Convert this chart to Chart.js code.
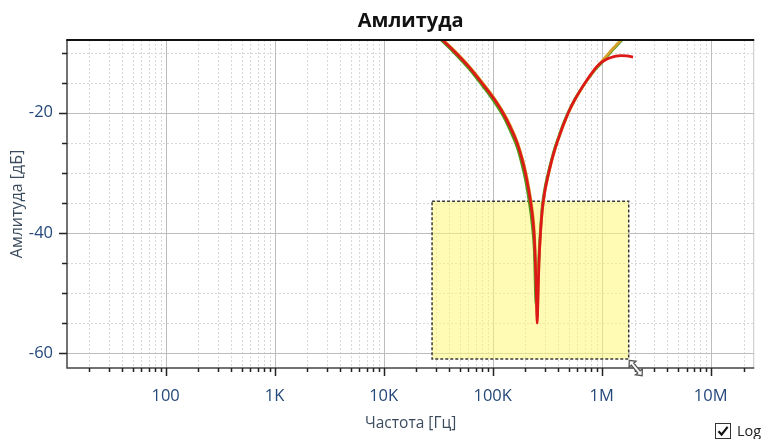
<!DOCTYPE html>
<html>
<head>
<meta charset="utf-8">
<script src="https://cdn.jsdelivr.net/npm/chart.js@4.4.0/dist/chart.umd.min.js"></script>
<style>
  body { margin: 0; background: #fff; }
  #wrap { position: relative; width: 762px; height: 439px; }
  #logBox { position: absolute; left: 715px; top: 421px; display: flex; align-items: center;
            font: 14.5px "Open Sans", sans-serif; color: #222; white-space: nowrap; }
  #logBox .box { width: 14px; height: 14px; border: 1px solid #333; background: #fff;
                 display: flex; align-items: center; justify-content: center; margin-right: 6px; }
</style>
</head>
<body>
<div id="wrap">
  <canvas id="ampChart" width="762" height="439"></canvas>
  <div id="logBox">
    <span class="box"><svg width="12" height="12" viewBox="0 0 12 12"><path d="M1.5 6.2 L4.6 9.6 L10.6 1.8" fill="none" stroke="#111" stroke-width="2.2"/></svg></span>Log
  </div>
</div>
<script>
// frequency points [Hz]
const freqs = [30e3, 35e3, 45e3, 60e3, 80e3, 100e3, 124e3, 145e3, 168e3, 185e3, 200e3, 215e3, 230e3,
  241e3, 250e3, 256e3, 262e3, 266e3, 273e3, 285e3, 300e3, 320e3, 345e3, 375e3, 410e3, 450e3,
  500e3, 560e3, 640e3, 730e3, 820e3, 907e3, 1.0e6, 1.1e6, 1.2e6, 1.35e6, 1.5e6, 1.7e6, 1.94e6];

// amplitude [dB] per series
const ampRed = [-6.9, -8.0, -9.9, -12.3, -15.1, -17.4, -20, -22.4, -25.1, -27.6, -30.1, -33.1, -36.7,
  -40.8, -48.3, -55, -49, -45, -40.8, -36.2, -33.2, -30.7, -28.2, -25.9, -23.8, -21.8,
  -19.8, -18.0, -16.2, -14.6, -13.3, -12.3, -11.6, -11.15, -10.85, -10.6, -10.5, -10.55, -10.75];
const ampOrange = [-6.75, -7.85, -9.75, -12.15, -14.9, -17.2, -19.8, -22.1, -24.8, -27.2, -29.6, -32.5, -35.9,
  -39.6, -47, -54, -49, -45, -41, -36.5, -33.4, -30.9, -28.35, -26.0, -23.9, -21.9,
  -19.9, -18.1, -16.3, -14.7, -13.4, -12.35, -11.5, -10.6, -9.8, -8.8, -7.9, -6.8, -5.6];
const ampGreen = [-7.1, -8.2, -10.15, -12.6, -15.45, -17.8, -20.45, -23.0, -25.8, -28.5, -31.2, -34.5, -38.5,
  -43, -52, -50, -46.5, -43.5, -40.0, -35.5, -32.7, -30.3, -27.9, -25.6, -23.6, -21.6,
  -19.7, -17.9, -16.2, -14.65, -13.45, -12.5, -11.7, -10.8, -10.0, -9.0, -8.1, -7.0, -5.8];

const xMajorTicks = [100, 1e3, 1e4, 1e5, 1e6, 1e7];
const xTickLabels = ['100', '1K', '10K', '100K', '1M', '10M'];
const yMajorTicks = [-20, -40, -60];
const yMinorTicks = [-10, -15, -25, -30, -35, -45, -50, -55];

// selected zoom region (in data units)
const selFreq = [27.8e3, 1.77e6];
const selDb = [-34.7, -60.95];

const xMin = 12.46, xMax = 25.07e6;
const yMin = -62.44, yMax = -7.91;

const xMinorTicks = [];
[10, 100, 1e3, 1e4, 1e5, 1e6, 1e7].forEach(d => {
  for (let m = 2; m <= 9; m++) {
    if (m * d > xMin && m * d < xMax) xMinorTicks.push(m * d);
  }
});
const xAllTicks = xMajorTicks.concat(xMinorTicks).sort((a, b) => a - b);
const yAllTicks = yMajorTicks.concat(yMinorTicks).sort((a, b) => a - b);

const labelColor = '#24497a';
const titleColor = '#3b4b5e';
const fontFamily = '"Open Sans", "Noto Sans", sans-serif';

function line(ctx, x1, y1, x2, y2) {
  ctx.moveTo(x1, y1);
  ctx.lineTo(x2, y2);
}

const plotDecor = {
  id: 'plotDecor',
  beforeDatasetsDraw(chart) {
    const { ctx, chartArea: a, scales: { x, y } } = chart;
    ctx.save();
    // minor grid, dotted
    ctx.lineWidth = 1;
    ctx.strokeStyle = '#d8d8d8';
    ctx.setLineDash([2, 2]);
    ctx.beginPath();
    xMinorTicks.forEach(v => {
      const px = Math.round(x.getPixelForValue(v)) + 0.5;
      line(ctx, px, a.top, px, a.bottom);
    });
    yMinorTicks.forEach(v => {
      const py = Math.round(y.getPixelForValue(v)) + 0.5;
      line(ctx, a.left, py, a.right, py);
    });
    ctx.stroke();
    // major grid
    ctx.setLineDash([]);
    ctx.strokeStyle = '#bdbdbd';
    ctx.beginPath();
    xMajorTicks.forEach(v => {
      const px = Math.round(x.getPixelForValue(v)) + 0.5;
      line(ctx, px, a.top, px, a.bottom);
    });
    yMajorTicks.forEach(v => {
      const py = Math.round(y.getPixelForValue(v)) + 0.5;
      line(ctx, a.left, py, a.right, py);
    });
    ctx.stroke();

    // selection rectangle
    const sx0 = x.getPixelForValue(selFreq[0]), sx1 = x.getPixelForValue(selFreq[1]);
    const sy0 = y.getPixelForValue(selDb[0]), sy1 = y.getPixelForValue(selDb[1]);
    ctx.fillStyle = 'rgba(255,247,120,0.55)';
    ctx.fillRect(sx0, sy0, sx1 - sx0, sy1 - sy0);
    ctx.setLineDash([3, 2]);
    ctx.strokeStyle = '#3a3a3a';
    ctx.lineWidth = 1.5;
    ctx.strokeRect(sx0, sy0, sx1 - sx0, sy1 - sy0);
    ctx.restore();
  },
  afterDraw(chart) {
    const { ctx, chartArea: a, scales: { x, y } } = chart;
    ctx.save();
    // frame
    ctx.strokeStyle = '#c8c8c8';
    ctx.lineWidth = 1;
    ctx.beginPath();
    line(ctx, a.right - 0.5, a.top, a.right - 0.5, a.bottom);
    ctx.stroke();
    ctx.strokeStyle = '#444';
    ctx.lineWidth = 1.5;
    ctx.beginPath();
    line(ctx, a.left, a.top, a.left, a.bottom + 0.75);
    line(ctx, a.left, a.bottom, a.right, a.bottom);
    ctx.stroke();
    ctx.strokeStyle = '#111';
    ctx.lineWidth = 2;
    ctx.beginPath();
    line(ctx, a.left - 0.75, a.top, a.right, a.top);
    ctx.stroke();

    // tick marks
    ctx.strokeStyle = '#222';
    ctx.lineWidth = 1.5;
    ctx.beginPath();
    xAllTicks.forEach(v => {
      const px = Math.round(x.getPixelForValue(v)) + 0.5;
      const len = xMajorTicks.includes(v) ? 8 : 4;
      line(ctx, px, a.bottom, px, a.bottom + len);
    });
    yAllTicks.forEach(v => {
      const py = Math.round(y.getPixelForValue(v)) + 0.5;
      const len = yMajorTicks.includes(v) ? 8 : 5;
      line(ctx, a.left, py, a.left - len, py);
    });
    ctx.stroke();

    // title
    ctx.fillStyle = '#111';
    ctx.font = 'bold 20px ' + fontFamily;
    ctx.textAlign = 'center';
    ctx.textBaseline = 'alphabetic';
    ctx.fillText('Амлитуда', (a.left + a.right) / 2, 27);

    // resize cursor at the corner of the selection
    const cx = x.getPixelForValue(selFreq[1]), cy = y.getPixelForValue(selDb[1]);
    ctx.translate(cx + 7, cy + 9);
    ctx.rotate(50 * Math.PI / 180);
    ctx.beginPath();
    ctx.moveTo(-10, 0);
    ctx.lineTo(-5, -4.5);
    ctx.lineTo(-5, -1.6);
    ctx.lineTo(5, -1.6);
    ctx.lineTo(5, -4.5);
    ctx.lineTo(10, 0);
    ctx.lineTo(5, 4.5);
    ctx.lineTo(5, 1.6);
    ctx.lineTo(-5, 1.6);
    ctx.lineTo(-5, 4.5);
    ctx.closePath();
    ctx.fillStyle = '#fff';
    ctx.fill();
    ctx.strokeStyle = '#555';
    ctx.lineWidth = 1.3;
    ctx.stroke();
    ctx.restore();
  }
};

const ctx = document.getElementById('ampChart');
new Chart(ctx, {
  type: 'line',
  data: {
    labels: freqs,
    datasets: [
      { label: 'red', data: freqs.map((f, i) => ({ x: f, y: ampRed[i] })), borderColor: '#dc1818', borderWidth: 2.7 },
      { label: 'orange', data: freqs.map((f, i) => ({ x: f, y: ampOrange[i] })), borderColor: '#d6a02a', borderWidth: 2.7 },
      { label: 'green', data: freqs.map((f, i) => ({ x: f, y: ampGreen[i] })), borderColor: '#4f9a1c', borderWidth: 2.7 },
    ],
  },
  options: {
    responsive: false,
    animation: false,
    layout: { padding: { top: 40, right: 5, left: 0, bottom: 0 } },
    elements: { point: { radius: 0 }, line: { cubicInterpolationMode: 'monotone' } },
    plugins: { legend: { display: false }, tooltip: { enabled: false }, title: { display: false } },
    scales: {
      x: {
        type: 'logarithmic',
        min: xMin,
        max: xMax,
        grid: { display: false, drawTicks: false },
        border: { display: false },
        afterBuildTicks: s => { s.ticks = xAllTicks.map(v => ({ value: v })); },
        afterFit: s => { s.height = 71; },
        ticks: {
          autoSkip: false,
          maxRotation: 0,
          padding: 18.4,
          color: labelColor,
          font: { family: fontFamily, size: 16.5 },
          callback: v => {
            const i = xMajorTicks.indexOf(v);
            return i >= 0 ? xTickLabels[i] : '';
          },
        },
        title: {
          display: true,
          text: 'Частота [Гц]',
          color: titleColor,
          font: { family: fontFamily, size: 15.5 },
          padding: { top: 0, bottom: 6.5 },
        },
      },
      y: {
        min: yMin,
        max: yMax,
        grid: { display: false, drawTicks: false },
        border: { display: false },
        afterBuildTicks: s => { s.ticks = yAllTicks.map(v => ({ value: v })); },
        afterFit: s => { s.width = 67; },
        ticks: {
          padding: 14,
          color: labelColor,
          font: { family: fontFamily, size: 16.5 },
          callback: v => (yMajorTicks.includes(v) ? String(v) : ''),
        },
        title: {
          display: true,
          text: 'Амлитуда [дБ]',
          color: titleColor,
          font: { family: fontFamily, size: 16 },
          padding: { top: 7.4, bottom: 0 },
        },
      },
    },
  },
  plugins: [plotDecor],
});
</script>
</body>
</html>
